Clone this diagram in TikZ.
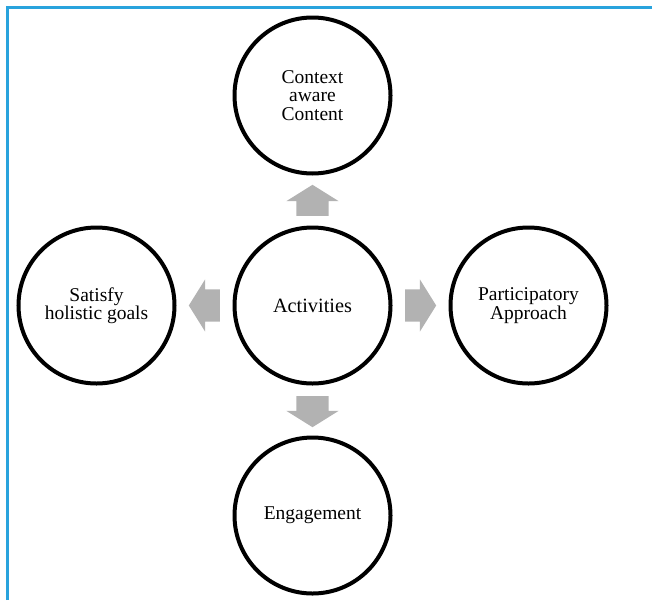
\documentclass[tikz,border=0pt]{standalone}
\usepackage{fontspec}
\setmainfont{Liberation Serif}
\usepackage{tikz}
\usetikzlibrary{positioning}
\usetikzlibrary{calc}
\usetikzlibrary{shapes.arrows}
\definecolor{frameblue}{HTML}{29A3DD}
\tikzstyle{goal}=[circle, draw=black, line width=4pt, minimum size=156pt,
  inner sep=0pt, align=center, font=\fontsize{19.5}{18.3}\selectfont]
\tikzstyle{hub}=[goal, font=\fontsize{20.3}{20}\selectfont]
\tikzstyle{blockarr}=[single arrow, fill=gray!60, draw=none, anchor=tail,
  inner xsep=0pt, inner ysep=16pt, minimum height=31pt,
  single arrow head extend=10pt, single arrow tip angle=116]
\tikzstyle{framebar}=[line width=3pt, draw=frameblue]

\begin{document}
\begin{tikzpicture}[x=1pt, y=1pt, node distance=50pt and 56pt]
\useasboundingbox (0,0) rectangle (652,-600);
\draw[framebar] (7.5,-600) |- (652,-7.5);

\node[hub] (act) at (312.5,-305.5) {Activities};
\node[goal, above=of act] (ctx) {Context\\aware\\Content};
\node[goal, left=of act] (holistic) {Satisfy\\holistic goals};
\node[goal, right=of act] (partic) {Participatory\\Approach};
\node[goal, below=of act] (engage) {Engagement};

% block arrows, tail close to the middle circle
\node[blockarr, rotate=90] (toctx)
  at ($(act.north)!9.5pt!(ctx.south)$) {};
\node[blockarr, rotate=180] (toholistic)
  at ($(act.west)!12.5pt!(holistic.east)$) {};
\node[blockarr] (topartic)
  at ($(act.east)!12.5pt!(partic.west)$) {};
\node[blockarr, rotate=270] (toengage)
  at ($(act.south)!10.5pt!(engage.north)$) {};

\end{tikzpicture}
\end{document}
